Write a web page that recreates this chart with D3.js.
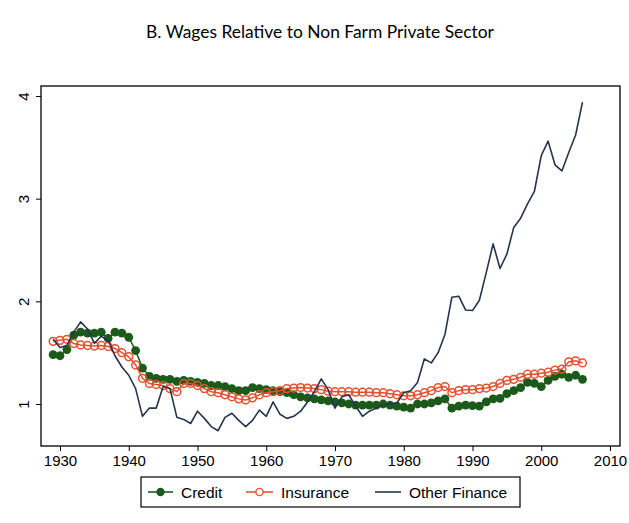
<!DOCTYPE html>
<html>
<head>
<meta charset="utf-8">
<script src="https://cdn.jsdelivr.net/npm/d3@7"></script>
<style>
  html, body { margin: 0; padding: 0; background: #fff; }
  svg { display: block; }
  .tick text, .lbl { font-family: "Liberation Sans", Arial, sans-serif; }
</style>
</head>
<body>
<svg id="chart" width="629" height="523"></svg>
<script>
// ---- Data ----
const years = d3.range(1929, 2007);

const credit = [
  1.48, 1.47, 1.53, 1.67, 1.70, 1.69, 1.69, 1.70, 1.64, 1.70,
  1.69, 1.65, 1.52, 1.35, 1.27, 1.25, 1.24, 1.24, 1.22, 1.23,
  1.22, 1.21, 1.20, 1.18, 1.18, 1.17, 1.15, 1.13, 1.13, 1.16,
  1.15, 1.14, 1.13, 1.12, 1.11, 1.09, 1.07, 1.06, 1.05, 1.04,
  1.03, 1.02, 1.01, 1.00, 0.99, 0.99, 0.99, 0.99, 1.00, 0.99,
  0.98, 0.97, 0.96, 1.00, 1.00, 1.01, 1.03, 1.05, 0.96, 0.98,
  0.99, 0.985, 0.98, 1.02, 1.05, 1.055, 1.10, 1.13, 1.16, 1.21,
  1.20, 1.17, 1.23, 1.27, 1.29, 1.26, 1.28, 1.24
];

const insurance = [
  1.61, 1.62, 1.63, 1.59, 1.575, 1.57, 1.565, 1.57, 1.56, 1.54,
  1.50, 1.46, 1.38, 1.25, 1.20, 1.19, 1.18, 1.15, 1.12, 1.20,
  1.20, 1.18, 1.15, 1.12, 1.11, 1.09, 1.07, 1.05, 1.04, 1.06,
  1.09, 1.11, 1.12, 1.13, 1.15, 1.155, 1.16, 1.155, 1.15, 1.14,
  1.125, 1.12, 1.12, 1.12, 1.115, 1.115, 1.115, 1.11, 1.11, 1.10,
  1.09, 1.08, 1.08, 1.09, 1.11, 1.13, 1.16, 1.17, 1.11, 1.13,
  1.14, 1.14, 1.15, 1.155, 1.17, 1.20, 1.23, 1.24, 1.26, 1.29,
  1.29, 1.30, 1.31, 1.33, 1.34, 1.41, 1.42, 1.40
];

const otherFinance = [
  1.63, 1.55, 1.57, 1.70, 1.80, 1.73, 1.59, 1.66, 1.62, 1.47,
  1.36, 1.28, 1.15, 0.88, 0.96, 0.96, 1.17, 1.15, 0.87, 0.85,
  0.81, 0.93, 0.86, 0.78, 0.74, 0.87, 0.91, 0.84, 0.78, 0.84,
  0.94, 0.88, 1.02, 0.90, 0.86, 0.88, 0.93, 1.02, 1.12, 1.245,
  1.14, 0.96, 1.07, 1.09, 0.98, 0.88, 0.93, 0.96, 0.99, 1.00,
  1.01, 1.11, 1.13, 1.21, 1.44, 1.40, 1.50, 1.68, 2.04, 2.05,
  1.915, 1.91, 2.01, 2.28, 2.56, 2.32, 2.46, 2.72, 2.81, 2.95,
  3.07, 3.42, 3.56, 3.33, 3.27, 3.45, 3.62, 3.94
];

const xTicks = [1930, 1940, 1950, 1960, 1970, 1980, 1990, 2000, 2010];
const yTicks = [1, 2, 3, 4];
const seriesNames = ["Credit", "Insurance", "Other Finance"];
const titleText = "B. Wages Relative to Non Farm Private Sector";

// ---- Styles ----
const colGreen = "#1c5a1c";
const colRed = "#e5502f";
const colNavy = "#27344e";

const svg = d3.select("#chart");

const frame = { left: 41, right: 620, top: 86, bottom: 446 };

const x = d3.scaleLinear().domain([1930, 2010]).range([60, 610]);
const y = d3.scaleLinear().domain([1, 4]).range([404, 96]);

// title
const title = svg.append("text")
  .attr("x", 320).attr("y", 38)
  .attr("text-anchor", "middle")
  .style("font-family", "Lato, 'Open Sans', sans-serif")
  .style("font-size", "17px")
  .attr("fill", "#000")
  .text(titleText);
(function(){
  const w = title.node().getComputedTextLength();
  const target = 348;
  title.style("font-size", (17 * target / w).toFixed(2) + "px");
})();

// plot frame
svg.append("rect")
  .attr("x", frame.left).attr("y", frame.top)
  .attr("width", frame.right - frame.left)
  .attr("height", frame.bottom - frame.top)
  .attr("fill", "none").attr("stroke", "#000").attr("stroke-width", 1.3);

// x axis
const xAxis = d3.axisBottom(x).tickValues(xTicks).tickFormat(d3.format("d")).tickSize(5).tickPadding(4);
const gx = svg.append("g").attr("transform", `translate(0,${frame.bottom})`).call(xAxis);
gx.attr("font-family", null).attr("font-size", null);
gx.select(".domain").remove();
gx.selectAll("line").attr("stroke", "#000").attr("stroke-width", 1);
gx.selectAll("text").style("font-size", "15px").attr("fill", "#000");

// y axis (labels rotated, reading bottom-to-top)
const yAxis = d3.axisLeft(y).tickValues(yTicks).tickFormat(d3.format("d")).tickSize(5).tickPadding(0);
const gy = svg.append("g").attr("transform", `translate(${frame.left},0)`).call(yAxis);
gy.attr("font-family", null).attr("font-size", null);
gy.select(".domain").remove();
gy.selectAll("line").attr("stroke", "#000").attr("stroke-width", 1);
gy.selectAll("text")
  .attr("x", 0).attr("y", 0).attr("dy", null)
  .attr("text-anchor", "middle")
  .attr("transform", `translate(${29 - frame.left},0) rotate(-90)`)
  .style("font-size", "15px").attr("fill", "#000");

// series data
const dCredit = years.map((yr, i) => ({ yr, v: credit[i] }));
const dIns = years.map((yr, i) => ({ yr, v: insurance[i] }));
const dOther = years.map((yr, i) => ({ yr, v: otherFinance[i] }));

const line = d3.line().x(d => x(d.yr)).y(d => y(d.v));

const plot = svg.append("g");

// Credit
plot.append("path").datum(dCredit).attr("d", line)
  .attr("fill", "none").attr("stroke", colGreen).attr("stroke-width", 1.5);
plot.append("g").selectAll("circle").data(dCredit).join("circle")
  .attr("cx", d => x(d.yr)).attr("cy", d => y(d.v)).attr("r", 4.4)
  .attr("fill", colGreen);

// Insurance
plot.append("path").datum(dIns).attr("d", line)
  .attr("fill", "none").attr("stroke", colRed).attr("stroke-width", 1.5);
plot.append("g").selectAll("circle").data(dIns).join("circle")
  .attr("cx", d => x(d.yr)).attr("cy", d => y(d.v)).attr("r", 3.9)
  .attr("fill", "none").attr("stroke", colRed).attr("stroke-width", 1.5);

// Other Finance
plot.append("path").datum(dOther).attr("d", line)
  .attr("fill", "none").attr("stroke", colNavy).attr("stroke-width", 1.6)
  .attr("stroke-linejoin", "round");

// legend
const leg = svg.append("g");
leg.append("rect").attr("x", 141).attr("y", 477).attr("width", 379).attr("height", 30)
  .attr("fill", "#fff").attr("stroke", "#000").attr("stroke-width", 1.2);

const legItems = [
  { name: seriesNames[0], color: colGreen, x0: 148, x1: 173, tx: 181, marker: "dot" },
  { name: seriesNames[1], color: colRed, x0: 246, x1: 273, tx: 281, marker: "ring" },
  { name: seriesNames[2], color: colNavy, x0: 375, x1: 401, tx: 409, marker: null }
];
const ly = 492;
legItems.forEach(it => {
  leg.append("line").attr("x1", it.x0).attr("x2", it.x1).attr("y1", ly).attr("y2", ly)
    .attr("stroke", it.color).attr("stroke-width", 1.6);
  if (it.marker === "dot") {
    leg.append("circle").attr("cx", (it.x0 + it.x1) / 2).attr("cy", ly).attr("r", 4.2).attr("fill", it.color);
  } else if (it.marker === "ring") {
    leg.append("circle").attr("cx", (it.x0 + it.x1) / 2).attr("cy", ly).attr("r", 3.6)
      .attr("fill", "#fff").attr("stroke", it.color).attr("stroke-width", 1.4);
  }
  leg.append("text").attr("class", "lbl").attr("x", it.tx).attr("y", ly + 5.5)
    .style("font-size", "15.5px").attr("fill", "#000")
    .text(it.name);
});
</script>
</body>
</html>
